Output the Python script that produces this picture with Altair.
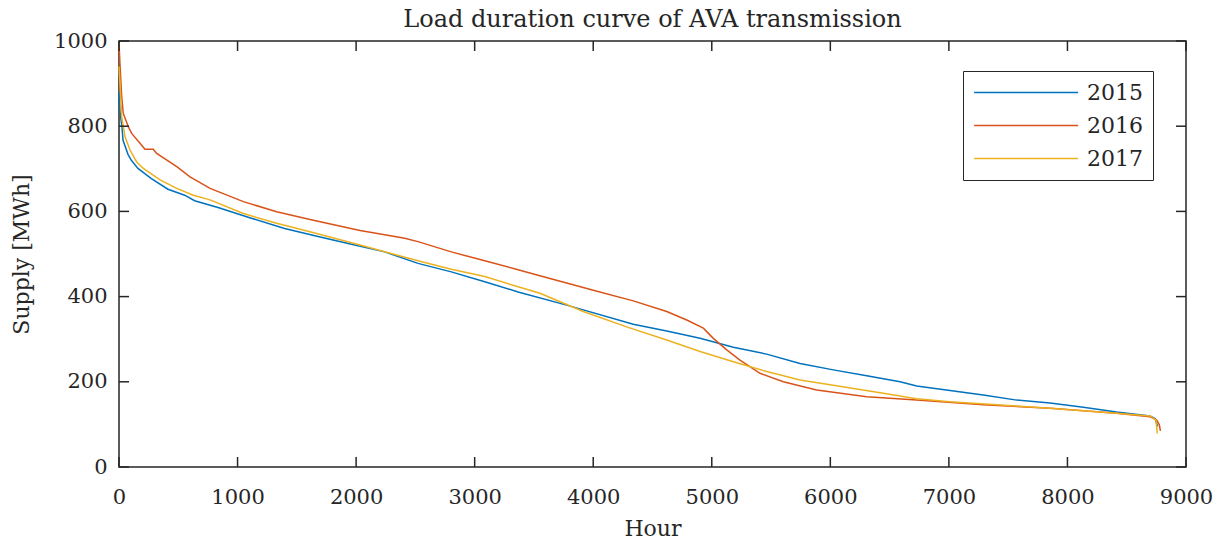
import altair as alt
import pandas as pd

# Load duration curves: hours sorted by descending supply
hours_2015 = [0, 10, 25, 34, 76, 104, 160, 273, 413, 554, 638, 835, 1116, 1397, 1679,
              1960, 2241, 2522, 2803, 3085, 3366, 3776, 4338, 4620, 4901, 5182, 5463,
              5744, 6025, 6307, 6588, 6728, 7290, 7572, 7853, 8134, 8415, 8697, 8739, 8760]
supply_2015 = [880, 830, 798, 767, 734, 720, 701, 677, 652, 638, 625, 609, 584, 560, 541,
               523, 505, 478, 458, 435, 411, 380, 335, 319, 302, 281, 265,
               243, 228, 214, 200, 190, 169, 157, 150, 140, 129, 120, 114, 95]

hours_2016 = [0, 8, 23, 36, 78, 107, 177, 219, 289, 318, 487, 599, 768, 1049, 1330, 1611,
              2033, 2241, 2410, 2522, 2803, 3085, 3366, 3534, 3776, 4000, 4338, 4620, 4789,
              4929, 5013, 5126, 5238, 5407, 5603, 5885, 6307, 6728, 7290, 7853, 8415,
              8697, 8753, 8775, 8784]
supply_2016 = [995, 947, 869, 830, 799, 783, 760, 746, 746, 736, 705, 681, 654, 623, 599, 581,
               555, 545, 537, 529, 505, 484, 463, 450, 432, 415, 390, 365, 345,
               326, 302, 275, 251, 220, 200, 181, 165, 157, 146, 138, 126,
               118, 110, 99, 85]

hours_2017 = [0, 8, 23, 51, 93, 149, 205, 346, 487, 627, 768, 1049, 1330, 1611, 2033,
              2522, 2803, 3085, 3366, 3551, 3916, 4282, 4620, 4901, 5182, 5463, 5744,
              6025, 6447, 6728, 7009, 7572, 7853, 8415, 8697, 8747, 8758]
supply_2017 = [940, 900, 822, 775, 744, 716, 701, 674, 654, 638, 627, 595, 572, 552, 521,
               484, 464, 447, 423, 408, 365, 329, 298, 271, 247, 224, 204,
               192, 173, 160, 153, 143, 138, 126, 120, 110, 79]

years = ["2015", "2016", "2017"]
colors = ["#0072BD", "#D95319", "#EDB120"]

x_ticks = [0, 1000, 2000, 3000, 4000, 5000, 6000, 7000, 8000, 9000]
y_ticks = [0, 200, 400, 600, 800, 1000]

W, H = 1067, 426
FONT = "DejaVu Serif"
INK = "#262626"
TICK = 10

rows = []
for yr, hs, vs in zip(years, [hours_2015, hours_2016, hours_2017],
                      [supply_2015, supply_2016, supply_2017]):
    for h, v in zip(hs, vs):
        rows.append({"year": yr, "hour": h, "supply": v})
df = pd.DataFrame(rows)

xs = alt.Scale(domain=[0, 9000], nice=False, zero=False)
ys = alt.Scale(domain=[0, 1000], nice=False)

x_axis = alt.Axis(values=x_ticks, domain=False, ticks=False, grid=False, labelPadding=19,
                  labelFlush=False, labelFont=FONT, labelFontSize=21, labelColor=INK,
                  format="d", titleFont=FONT, titleFontSize=22, titleColor=INK,
                  titleFontWeight="normal", titlePadding=11)
y_axis = alt.Axis(values=y_ticks, domain=False, ticks=False, grid=False, labelPadding=12,
                  labelFlush=False, labelFont=FONT, labelFontSize=21, labelColor=INK,
                  format="d", titleFont=FONT, titleFontSize=22, titleColor=INK,
                  titleFontWeight="normal", titlePadding=20)

# legend key: a 104 px horizontal stroke drawn from the symbol's left edge
legend = alt.Legend(title=None, orient="none", legendX=844, legendY=30,
                    symbolType="M-1,0H9", symbolSize=433, symbolStrokeWidth=1.5,
                    labelFont=FONT, labelFontSize=22, labelColor=INK, labelOffset=91,
                    padding=10, rowPadding=10, strokeColor=INK, fillColor="white")

lines = alt.Chart(df).mark_line(strokeWidth=1.5).encode(
    x=alt.X("hour:Q", scale=xs, axis=x_axis, title="Hour"),
    y=alt.Y("supply:Q", scale=ys, axis=y_axis, title="Supply [MWh]"),
    color=alt.Color("year:N", scale=alt.Scale(domain=years, range=colors), legend=legend),
    detail="year:N",
)

xt = pd.DataFrame({"hour": x_ticks})
yt = pd.DataFrame({"supply": y_ticks})

tick_top = alt.Chart(xt).mark_rule(color=INK, strokeWidth=1.5).encode(
    x=alt.X("hour:Q", scale=xs), y=alt.value(0), y2=alt.value(TICK))
tick_bottom = alt.Chart(xt).mark_rule(color=INK, strokeWidth=1.5).encode(
    x=alt.X("hour:Q", scale=xs), y=alt.value(H - TICK), y2=alt.value(H))
tick_left = alt.Chart(yt).mark_rule(color=INK, strokeWidth=1.5).encode(
    y=alt.Y("supply:Q", scale=ys), x=alt.value(0), x2=alt.value(TICK))
tick_right = alt.Chart(yt).mark_rule(color=INK, strokeWidth=1.5).encode(
    y=alt.Y("supply:Q", scale=ys), x=alt.value(W - TICK), x2=alt.value(W))

chart = alt.layer(lines, tick_top, tick_bottom, tick_left, tick_right).properties(
    width=W, height=H,
    background="white",
    title=alt.TitleParams("Load duration curve of AVA transmission", font=FONT,
                          fontSize=24, fontWeight="normal", color=INK, offset=-2),
    autosize=alt.AutoSizeParams(type="none"),
    padding={"left": 119, "top": 41, "right": 39, "bottom": 74},
).configure_view(stroke=INK, strokeWidth=1.5)

chart.save("out.html", embed_options={"renderer": "svg", "actions": False})
